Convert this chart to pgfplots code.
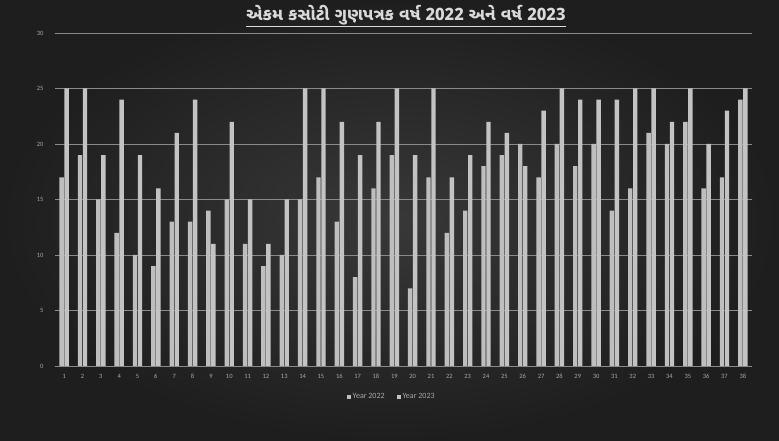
\documentclass[border=0pt]{standalone}
\usepackage{fontspec}
\setmainfont{Carlito}
\newfontfamily\gujfont[Script=Gujarati]{Noto Sans Gujarati UI}
\usepackage{pgfplots}
\pgfplotsset{compat=1.18}
\usepackage{pgfplotstable}
\definecolor{bgin}{HTML}{383838}
\definecolor{bgout}{HTML}{1E1E1E}
\definecolor{barc}{HTML}{BEBEBE}
\definecolor{gridc}{HTML}{8A8A8A}
\definecolor{tickc}{HTML}{A8A8A8}
\pgfplotstableread{
x y22 y23
1 17 25
2 19 25
3 15 19
4 12 24
5 10 19
6 9 16
7 13 21
8 13 24
9 14 11
10 15 22
11 11 15
12 9 11
13 10 15
14 15 25
15 17 25
16 13 22
17 8 19
18 16 22
19 19 25
20 7 19
21 17 25
22 12 17
23 14 19
24 18 22
25 19 21
26 20 18
27 17 23
28 20 25
29 18 24
30 20 24
31 14 24
32 16 25
33 21 25
34 20 22
35 22 25
36 16 20
37 17 23
38 24 25
}\datatable
\begin{document}
\begin{tikzpicture}[x=1pt,y=1pt]
\shade[inner color=bgin, outer color=bgout] (0,0) rectangle (779,441);
\node[text=black!15, font=\gujfont\bfseries\fontsize{17}{19}\selectfont] at (406,425) {\underline{એકમ કસોટી ગુણપત્રક વર્ષ 2022 અને વર્ષ 2023}};
\begin{axis}[
  at={(55pt,75pt)}, anchor=south west,
  scale only axis, width=697pt, height=333pt,
  ymin=0, ymax=30, ytick={0,5,...,30},
  xmin=0.5, xmax=38.5, xtick={1,...,38},
  ybar, bar width=4.4pt,
  axis line style={draw=none},
  axis x line*=bottom,
  x axis line style={draw=gridc, line width=0.8pt},
  ymajorgrids, grid style={draw=gridc, line width=0.7pt},
  major tick length=0pt,
  tick label style={text=tickc, font=\fontsize{6.5}{7}\selectfont},
  /pgf/number format/assume math mode=true,
  yticklabel style={xshift=-8pt},
  xticklabel style={yshift=-5pt},
  legend style={at={(0.483,-0.093)}, anchor=center, draw=none, fill=none,
    text=tickc, font=\fontsize{8}{9}\selectfont, legend columns=2,
    /tikz/every even column/.append style={column sep=10pt}},
  legend image code/.code={\fill[#1] (0pt,-2pt) rectangle (4pt,2pt);},
]
\addplot[fill=barc, draw=none, bar shift=-2.5pt] table[x=x,y=y22] {\datatable};
\addplot[fill=barc!92!white, draw=none, bar shift=2.5pt] table[x=x,y=y23] {\datatable};
\legend{Year 2022, Year 2023}
\end{axis}
\end{tikzpicture}
\end{document}
